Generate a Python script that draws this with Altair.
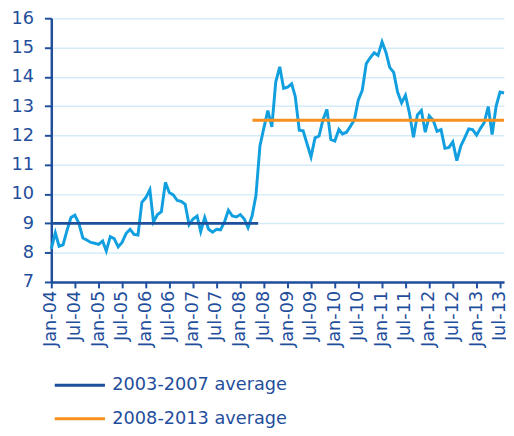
import altair as alt
import pandas as pd

# Monthly series, Jan-2004 .. Aug-2013
start_month = "2004-01-01"
values = [
    8.13, 8.68, 8.22, 8.27, 8.75, 9.20, 9.28, 9.00, 8.50, 8.43, 8.35, 8.32,   # 2004
    8.28, 8.40, 8.06, 8.55, 8.48, 8.20, 8.35, 8.65, 8.80, 8.62, 8.60, 9.72,   # 2005
    9.88, 10.15, 9.05, 9.30, 9.40, 10.40, 10.05, 9.97, 9.78, 9.75, 9.65, 8.95,  # 2006
    9.15, 9.25, 8.72, 9.20, 8.80, 8.70, 8.80, 8.78, 9.05, 9.45, 9.25, 9.22,   # 2007
    9.30, 9.15, 8.85, 9.25, 9.95, 11.64, 12.25, 12.85, 12.29, 13.82, 14.34, 13.61,  # 2008
    13.65, 13.76, 13.33, 12.18, 12.16, 11.70, 11.27, 11.92, 11.98, 12.53, 12.89, 11.86,  # 2009
    11.81, 12.20, 12.05, 12.11, 12.31, 12.53, 13.20, 13.54, 14.45, 14.65, 14.82, 14.73,  # 2010
    15.19, 14.82, 14.32, 14.15, 13.48, 13.11, 13.37, 12.76, 11.94, 12.70, 12.85, 12.11,  # 2011
    12.67, 12.51, 12.14, 12.20, 11.56, 11.59, 11.78, 11.14, 11.64, 11.92, 12.22, 12.20,  # 2012
    12.01, 12.25, 12.44, 12.98, 12.03, 13.00, 13.48, 13.45,                             # 2013
]

avg_labels = ["2003-2007 average", "2008-2013 average"]
avg_values = [9.0, 12.52]
avg_start = ["2004-01-01T00:00:00", "2008-04-04T00:00:00"]
avg_end = ["2008-05-18T00:00:00", "2013-08-01T00:00:00"]
avg_colors = ["#1d4f9c", "#f7901e"]

tick_years = [2004, 2005, 2006, 2007, 2008, 2009, 2010, 2011, 2012, 2013]
tick_halves = ["01", "07"]
y_ticks = [7, 8, 9, 10, 11, 12, 13, 14, 15, 16]

dates = pd.date_range(start_month, periods=len(values), freq="MS").strftime("%Y-%m-%dT00:00:00")
series = pd.DataFrame({"date": dates, "value": values})
avgs = pd.DataFrame({"series": avg_labels, "value": avg_values, "start": avg_start, "end": avg_end})
tick_dates = [f"{y}-{m}-01T00:00:00" for y in tick_years for m in tick_halves]
ticks = pd.DataFrame({"date": tick_dates})

text_color = "#1f4e9c"
font = "DejaVu Sans"
W, H = 460, 268

tick_values = []
for y in tick_years:
    tick_values.append(alt.DateTime(year=y, month=1, date=1))
    tick_values.append(alt.DateTime(year=y, month=7, date=1))

x_axis = alt.Axis(values=tick_values, labels=False, title=None, grid=False)
y_axis = alt.Axis(values=y_ticks, title=None, grid=True)

x_scale = alt.Scale(domain=[alt.DateTime(year=2004, month=1, date=1),
                            alt.DateTime(year=2013, month=8, date=1)])
y_scale = alt.Scale(domain=[7, 16], nice=False, zero=False)

line = alt.Chart(series).mark_line(color="#129fe0", strokeWidth=3).encode(
    x=alt.X("date:T", scale=x_scale, axis=x_axis),
    y=alt.Y("value:Q", scale=y_scale, axis=y_axis),
)

rules = alt.Chart(avgs).mark_rule(strokeWidth=3).encode(
    x=alt.X("start:T", scale=x_scale, axis=x_axis),
    x2="end:T",
    y=alt.Y("value:Q", scale=y_scale, axis=y_axis),
    color=alt.Color("series:N",
                    scale=alt.Scale(domain=avg_labels, range=avg_colors),
                    legend=alt.Legend(title=None, orient="none", legendX=2, legendY=364,
                                      symbolType="stroke", symbolSize=2600, symbolStrokeWidth=3,
                                      labelFontSize=18, labelColor=text_color, labelFont=font,
                                      labelOffset=6, rowPadding=16, clipHeight=18,
                                      labelLimit=400, direction="vertical")),
)

# rotated x tick labels, positioned through the x scale
tick_labels = alt.Chart(ticks).mark_text(
    angle=270, align="right", baseline="middle", fontSize=18, font=font, color=text_color
).encode(
    x=alt.X("date:T", scale=x_scale, axis=x_axis),
    y=alt.value(H + 9),
    text=alt.Text("date:T", format="%b-%y"),
)

chart = alt.layer(line, rules, tick_labels).properties(
    width=W, height=H,
    autosize=alt.AutoSizeParams(type="none"),
    padding={"left": 44, "top": 7, "right": 2, "bottom": 145},
).configure_view(
    stroke=None
).configure_axis(
    labelFontSize=18, labelColor=text_color, labelFont=font,
    domainColor=text_color, domainWidth=2.5, tickColor=text_color, tickWidth=2,
    labelOverlap=False,
).configure_axisX(
    tickSize=6,
).configure_axisY(
    tickSize=7, labelPadding=11, gridColor="#d3ecf8", gridWidth=1.5,
)

chart.save("out.html", embed_options={"renderer": "svg", "actions": False})
